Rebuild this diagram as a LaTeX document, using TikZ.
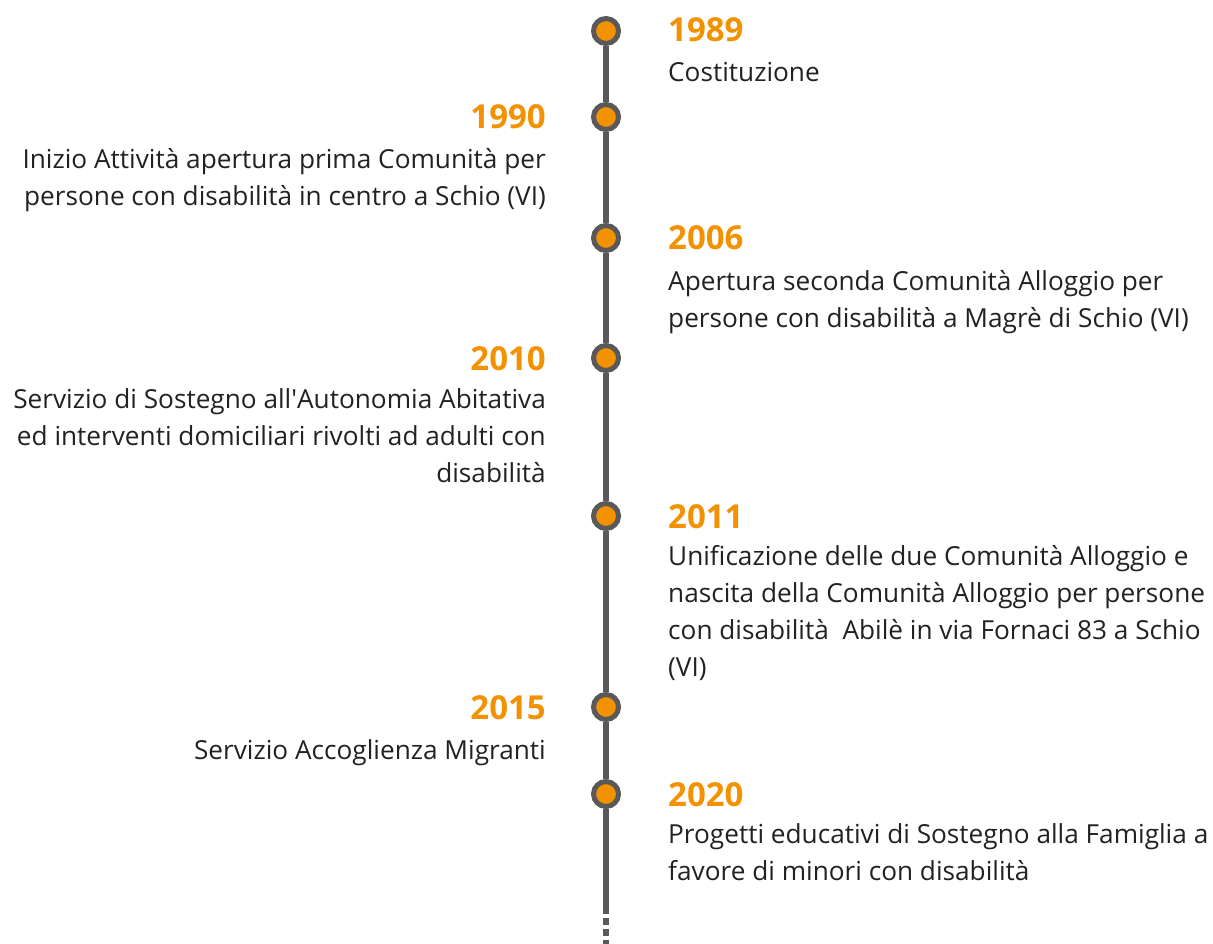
\documentclass[tikz,border=0pt]{standalone}
\usepackage{fontspec}
\setmainfont{Open Sans}
\definecolor{tlorange}{HTML}{F39200}
\definecolor{tlgray}{HTML}{595959}
\definecolor{tltext}{HTML}{222222}
\begin{document}
\begin{tikzpicture}[x=1pt,y=-1pt,
  dot/.style={circle,draw=tlgray,line width=5pt,fill=tlorange,minimum size=25pt,inner sep=0pt},
  year/.style={font=\fontsize{33}{38}\selectfont\bfseries,text=tlorange,inner sep=0pt},
  ryear/.style={year,anchor=base west},
  lyear/.style={year,anchor=base east},
  desc/.style={font=\fontsize{26.2}{37}\selectfont,text=tltext,inner sep=0pt},
  rdesc/.style={desc,align=left,anchor=base west},
  ldesc/.style={desc,align=right,anchor=base east},
  spine/.style={line width=6pt,draw=tlgray},
  spinedash/.style={line width=6pt,draw=tlgray,dash pattern=on 7pt off 4pt}]
\useasboundingbox (0,0) rectangle (1213,944);
\fill[white] (0,0) rectangle (1213,944);

\node[dot] (d1) at (606,31) {};
\node[dot] (d2) at (606,117) {};
\node[dot] (d3) at (606,238) {};
\node[dot] (d4) at (606,358) {};
\node[dot] (d5) at (606,516) {};
\node[dot] (d6) at (606,707) {};
\node[dot] (d7) at (606,794) {};
\coordinate (sEnd) at (606,914);
\coordinate (dStart) at (606,918);
\coordinate (dEnd) at (606,944);

\draw[spine] (d1) -- (d2);
\draw[spine] (d2) -- (d3);
\draw[spine] (d3) -- (d4);
\draw[spine] (d4) -- (d5);
\draw[spine] (d5) -- (d6);
\draw[spine] (d6) -- (d7);
\draw[spine] (d7) -- (sEnd);
\draw[spinedash] (dStart) -- (dEnd);

% last-line baselines are used for the description nodes (base = last line)
\node[ryear] (y1) at (668,42) {1989};
\node[rdesc] (t1) at (668,82) {Costituzione};

\node[lyear] (y2) at (546,129) {1990};
\node[ldesc] (t2) at (546,206) {Inizio Attività apertura prima Comunità per\\persone con disabilità in centro a Schio (VI)};

\node[ryear] (y3) at (668,250) {2006};
\node[rdesc] (t3) at (668,327) {Apertura seconda Comunità Alloggio per\\persone con disabilità a Magrè di Schio (VI)};

\node[lyear] (y4) at (546,370) {2010};
\node[ldesc] (t4) at (546,482) {Servizio di Sostegno all\textquotesingle Autonomia Abitativa\\ed interventi domiciliari rivolti ad adulti con\\disabilità};

\node[ryear] (y5) at (668,528) {2011};
\node[rdesc] (t5) at (668,676) {Unificazione delle due Comunità Alloggio e\\nascita della Comunità Alloggio per persone\\con disabilità\ \ Abilè in via Fornaci 83 a Schio\\(VI)};

\node[lyear] (y6) at (546,719) {2015};
\node[ldesc] (t6) at (546,759) {Servizio Accoglienza Migranti};

\node[ryear] (y7) at (668,806) {2020};
\node[rdesc] (t7) at (668,880) {Progetti educativi di Sostegno alla Famiglia a\\favore di minori con disabilità};
\end{tikzpicture}
\end{document}
